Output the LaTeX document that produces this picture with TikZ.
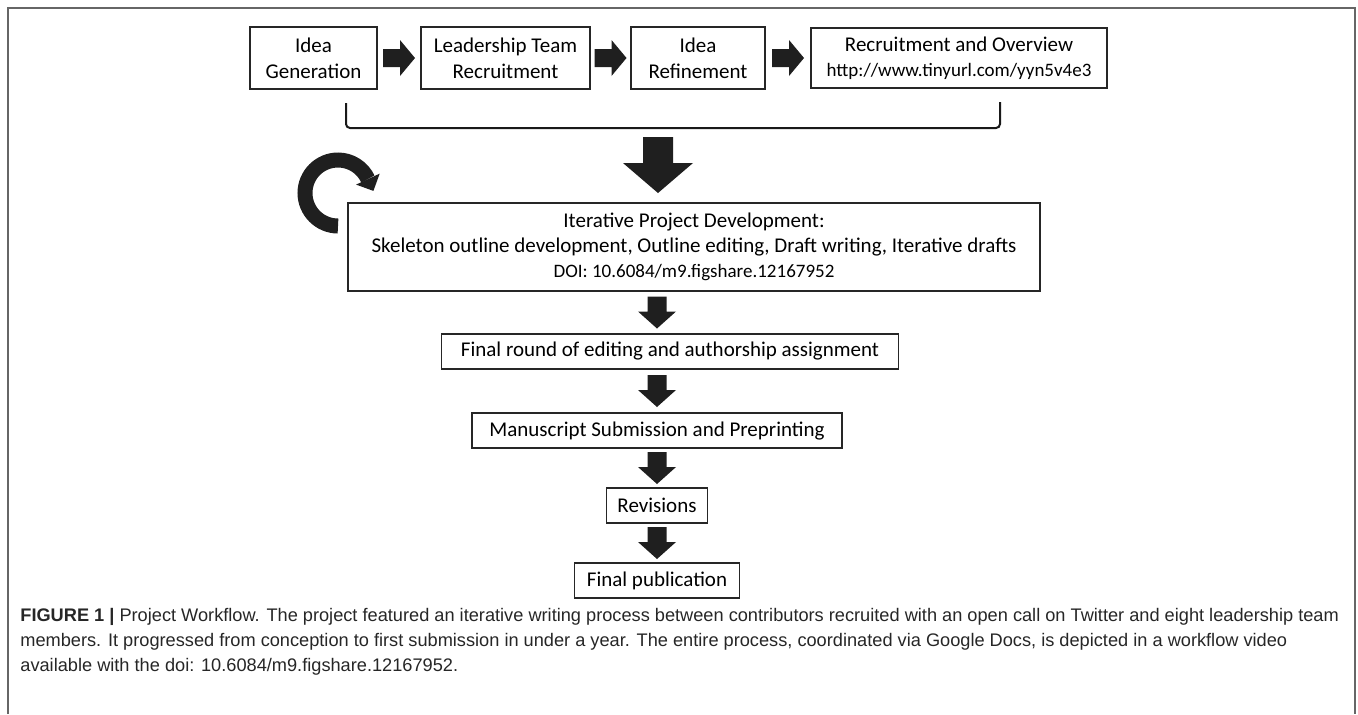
\documentclass[tikz,border=0pt]{standalone}
\usepackage{fontspec}
\setmainfont{Carlito}
\newfontfamily\capfont{Liberation Sans}
\usetikzlibrary{calc}

\tikzset{
  box/.style={draw=black!85, line width=0.6pt, inner sep=0pt, align=center,
    font=\fontsize{10.5}{13}\selectfont},
  rarrow/.pic={\fill[black!88] (-16,9) -- (1,9) -- (1,18) -- (16,0) -- (1,-18) -- (1,-9) -- (-16,-9) -- cycle;},
  darrow/.pic={\fill[black!88] (-9.5,16) -- (9.5,16) -- (9.5,1) -- (19,1) -- (0,-16) -- (-19,1) -- (-9.5,1) -- cycle;},
  bigarrow/.pic={\fill[black!88] (-15,28) -- (15,28) -- (15,2) -- (35,2) -- (0,-28) -- (-35,2) -- (-15,2) -- cycle;}
}

\begin{document}
\begin{tikzpicture}[x=0.5pt, y=0.5pt]
  \useasboundingbox (0,0) rectangle (1358,-714);
  % frame
  \draw[black!60, line width=1pt] (8,-714) -- (8,-8) -- (1355,-8) -- (1355,-714);

  % top row
  \node[box, minimum width=63.5pt, minimum height=31pt] (gen) at (313.5,-58) {Idea\\Generation};
  \node[box, minimum width=84.5pt, minimum height=31pt] (lead) at (505.5,-58) {Leadership Team\\Recruitment};
  \node[box, minimum width=67pt, minimum height=31pt] (refine) at (698,-58) {Idea\\Refinement};
  \node[box, minimum width=148pt, minimum height=30pt, font=\fontsize{10.5}{12.5}\selectfont] (recruit) at (959,-58)
    {Recruitment and Overview\\{\fontsize{9.5}{12.5}\selectfont http://www.tinyurl.com/yyn5v4e3}};

  \pic at ($(gen.east)!0.5!(lead.west)$) {rarrow};
  \pic at ($(lead.east)!0.5!(refine.west)$) {rarrow};
  \pic at ($(refine.east)!0.5!(recruit.west)$) {rarrow};

  % bracket
  \coordinate (bl) at (346,-103);
  \coordinate (br) at (1000,-102);
  \draw[black!90, line width=1pt, rounded corners=2pt] (bl) -- (bl |- 0,-128) -- (br |- 0,-128) -- (br);

  \pic at (658,-165) {bigarrow};

  % loop
  \draw[black!88, line width=7.5pt] (338,-226) arc[start angle=270, end angle=25, radius=33];
  \fill[black!88] (373.4,-190.9) -- (379.7,-173.6) -- (356.1,-184.6) -- cycle;

  % column
  \node[box, minimum width=346pt, minimum height=44pt, font=\fontsize{10.5}{12.5}\selectfont] (iter) at (694,-247)
    {Iterative Project Development:\\
     Skeleton outline development, Outline editing, Draft writing, Iterative drafts\\
     {\fontsize{9.5}{12.5}\selectfont DOI: 10.6084/m9.figshare.12167952}};
  \node[box, minimum width=228.5pt, minimum height=17.5pt] (final) at (670,-351.5) {Final round of editing and authorship assignment};
  \node[box, minimum width=185pt, minimum height=17.5pt] (manu) at (657,-430.5) {Manuscript Submission and Preprinting};
  \node[box, minimum width=50.5pt, minimum height=17.5pt] (rev) at (657,-505.5) {Revisions};
  \node[box, minimum width=82.5pt, minimum height=17.5pt] (pub) at (657,-580.5) {Final publication};

  \coordinate (col) at (657,0);
  \coordinate (m1) at ($(iter.south)!0.5!(final.north)$);
  \coordinate (m2) at ($(final.south)!0.5!(manu.north)$);
  \pic at (col |- m1) {darrow};
  \pic at (col |- m2) {darrow};
  \pic at ($(manu.south)!0.5!(rev.north)$) {darrow};
  \pic at ($(rev.south)!0.5!(pub.north)$) {darrow};

  % caption
  \node[anchor=north west, align=left, inner sep=0pt, text=black!85,
    font=\capfont\fontsize{9.1}{12.5}\selectfont] (cap) at (20,-608)
    {\textbf{FIGURE 1 |} Project Workflow. The project featured an iterative writing process between contributors recruited with an open call on Twitter and eight leadership team\\
     members. It progressed from conception to first submission in under a year. The entire process, coordinated via Google Docs, is depicted in a workflow video\\
     available with the doi: 10.6084/m9.figshare.12167952.};
\end{tikzpicture}
\end{document}
